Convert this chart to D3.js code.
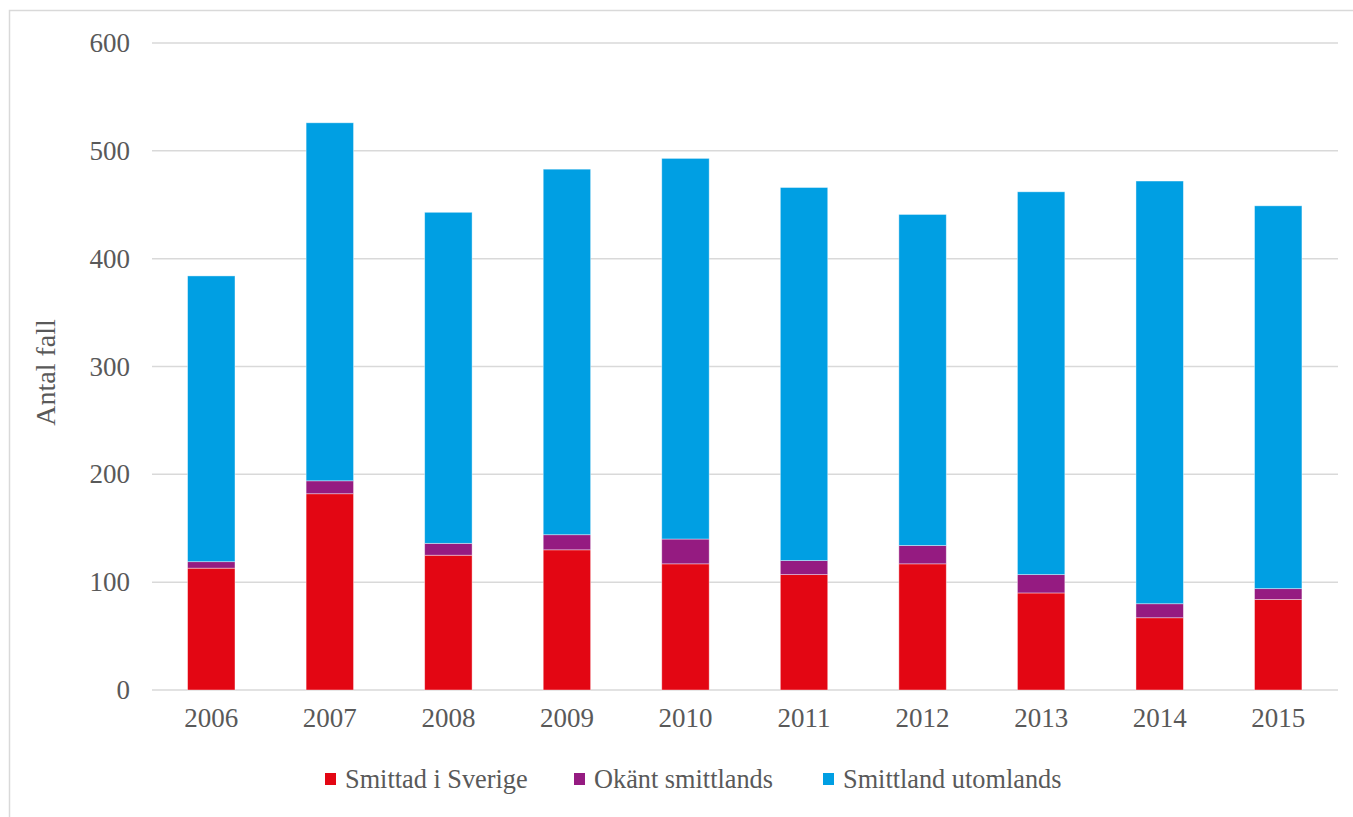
<!DOCTYPE html>
<html>
<head>
<meta charset="utf-8">
<script src="https://cdn.jsdelivr.net/npm/d3@7"></script>
<style>
  body { margin: 0; background: #fff; }
  text { font-family: "Liberation Serif", "Times New Roman", serif; fill: #595959; }
</style>
</head>
<body>
<div id="chart"></div>
<script>

var years = ["2006", "2007", "2008", "2009", "2010", "2011", "2012", "2013", "2014", "2015"]

var sverige = [113, 182, 125, 130, 117, 107, 117, 90, 67, 84]
var okant = [6, 12, 11, 14, 23, 13, 17, 17, 13, 10]
var utomlands = [265, 332, 307, 339, 353, 346, 307, 355, 392, 355]

var seriesNames = ["Smittad i Sverige", "Okänt smittlands", "Smittland utomlands"]
var seriesColors = ["#e30613", "#951b81", "#009fe3"]

var yTicks = [0, 100, 200, 300, 400, 500, 600]

var width = 1353
var height = 817

var margin = { top: 43, right: 15, bottom: 127, left: 152 }

var svg = d3.select("#chart")
	.append("svg")
	.attr("width", width)
	.attr("height", height)

// outer frame
svg.append("rect")
	.attr("x", 9.5)
	.attr("y", 10.5)
	.attr("width", width + 20)
	.attr("height", height + 20)
	.attr("fill", "none")
	.attr("stroke", "#d9d9d9")
	.attr("stroke-width", 1.5)

var table = years.map(function(y, i) {
	return { year: y, s: sverige[i], o: okant[i], u: utomlands[i] }
})

var stack = d3.stack().keys(["s", "o", "u"])(table)

var xScale = d3.scaleBand()
	.domain(years)
	.range([margin.left, width - margin.right - 0.5])
	.paddingInner(0.6)
	.paddingOuter(0.3)

var yScale = d3.scaleLinear()
	.domain([0, 600])
	.range([height - margin.bottom, margin.top])

// gridlines
svg.append("g")
	.selectAll("line")
	.data(yTicks)
	.enter()
	.append("line")
	.attr("x1", margin.left)
	.attr("x2", width - margin.right)
	.attr("y1", function(d) { return yScale(d) })
	.attr("y2", function(d) { return yScale(d) })
	.attr("stroke", "#d9d9d9")
	.attr("stroke-width", 1.5)

// bars
svg.append("g")
	.selectAll("g")
	.data(stack)
	.enter()
	.append("g")
	.attr("fill", function(d, i) { return seriesColors[i] })
	.selectAll("rect")
	.data(function(d) { return d })
	.enter()
	.append("rect")
	.attr("x", function(d) { return xScale(d.data.year) })
	.attr("y", function(d) { return yScale(d[1]) })
	.attr("width", xScale.bandwidth())
	.attr("height", function(d) { return yScale(d[0]) - yScale(d[1]) })
	.attr("stroke", "#fff")
	.attr("stroke-opacity", 0.5)
	.attr("stroke-width", 0.8)

// y axis labels
var yAxis = d3.axisLeft(yScale).tickValues(yTicks).tickSize(0).tickPadding(22)

var gy = svg.append("g")
	.attr("transform", "translate(" + margin.left + ",0)")
	.call(yAxis)

gy.select(".domain").remove()
gy.selectAll("text")
	.style("font-size", "27px")
	.attr("fill", "#595959")
	.attr("font-family", "Liberation Serif")

// x axis labels
var xAxis = d3.axisBottom(xScale).tickSize(0).tickPadding(18)

var gx = svg.append("g")
	.attr("transform", "translate(0," + yScale(0) + ")")
	.call(xAxis)

gx.select(".domain").remove()
gx.selectAll("text")
	.style("font-size", "27px")
	.attr("fill", "#595959")
	.attr("font-family", "Liberation Serif")

// axis title
svg.append("text")
	.attr("transform", "translate(55," + (yScale(300) + 6) + ") rotate(-90)")
	.attr("text-anchor", "middle")
	.style("font-size", "28px")
	.text("Antal fall")

// legend
var legendX = [325, 574, 823]

var legend = svg.append("g")
	.selectAll("g")
	.data(seriesNames)
	.enter()
	.append("g")
	.attr("transform", function(d, i) { return "translate(" + legendX[i] + ",773)" })

legend.append("rect")
	.attr("width", 11)
	.attr("height", 12)
	.attr("fill", function(d, i) { return seriesColors[i] })

legend.append("text")
	.attr("x", 20)
	.attr("y", 15)
	.style("font-size", "26.3px")
	.text(function(d) { return d })

</script>
</body>
</html>
